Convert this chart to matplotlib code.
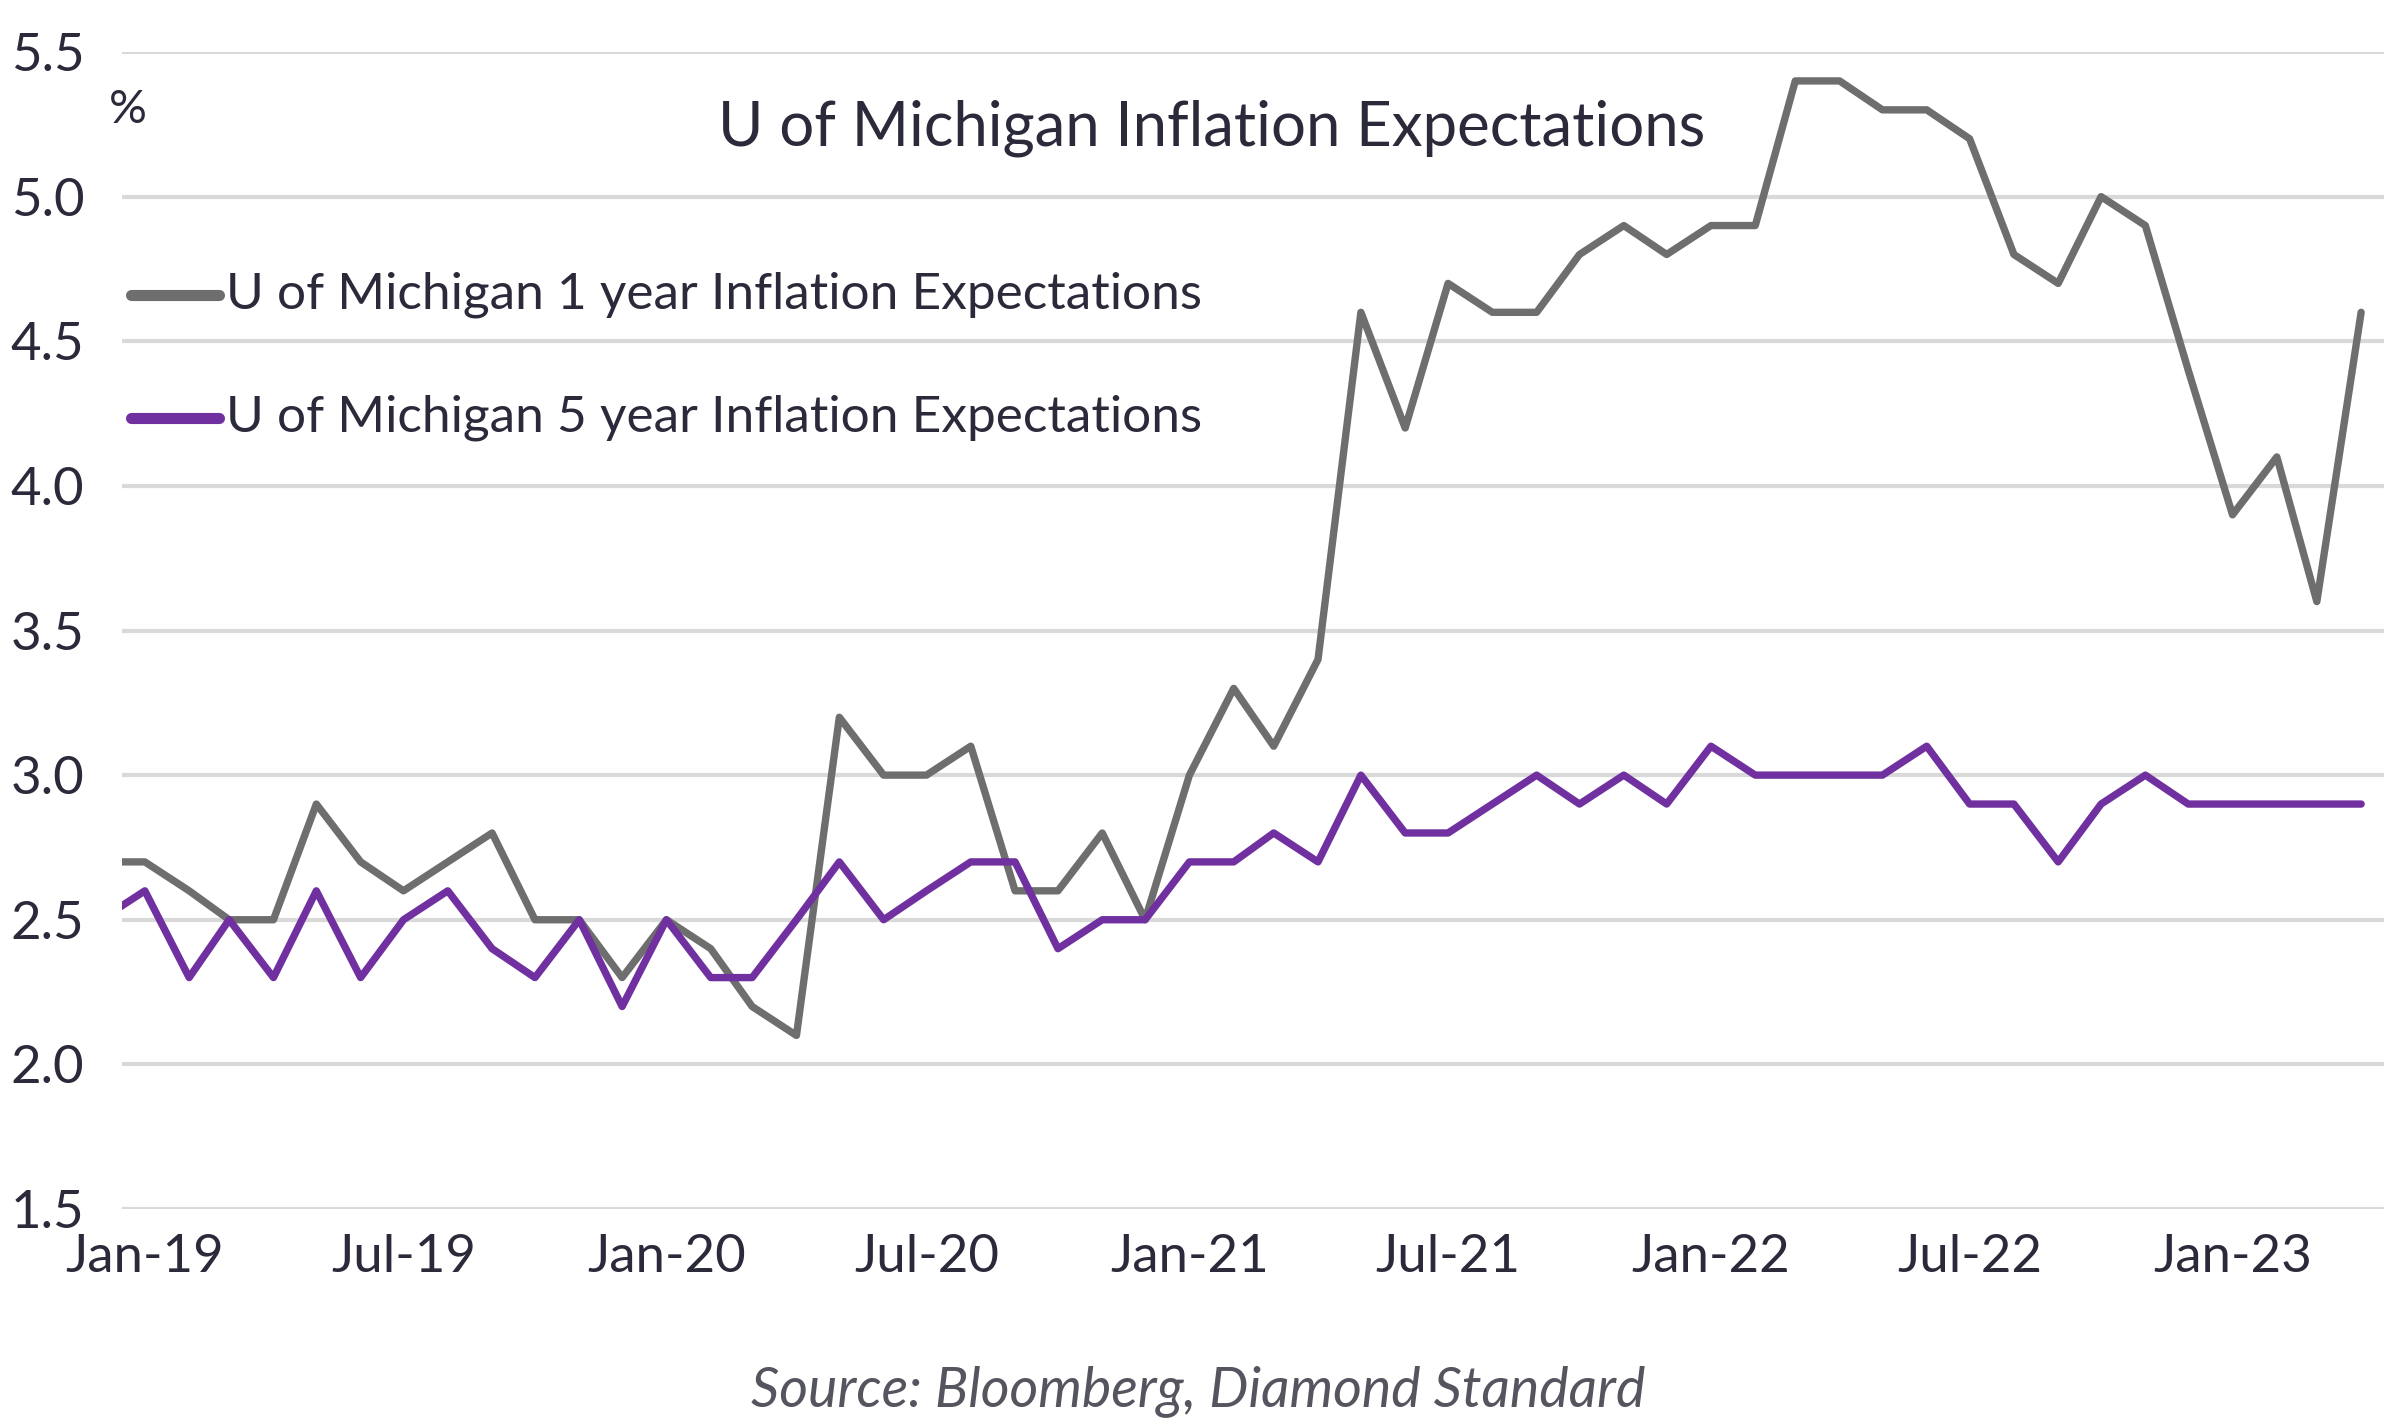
import matplotlib
matplotlib.use("Agg")
import matplotlib.pyplot as plt
import numpy as np
import pandas as pd
from matplotlib.lines import Line2D

# ---- data ----
months = pd.date_range("2018-12-01", "2023-04-01", freq="MS")
one_year = [2.7,
            2.7, 2.6, 2.5, 2.5, 2.9, 2.7, 2.6, 2.7, 2.8, 2.5, 2.5, 2.3,
            2.5, 2.4, 2.2, 2.1, 3.2, 3.0, 3.0, 3.1, 2.6, 2.6, 2.8, 2.5,
            3.0, 3.3, 3.1, 3.4, 4.6, 4.2, 4.7, 4.6, 4.6, 4.8, 4.9, 4.8,
            4.9, 4.9, 5.4, 5.4, 5.3, 5.3, 5.2, 4.8, 4.7, 5.0, 4.9, 4.4,
            3.9, 4.1, 3.6, 4.6]
five_year = [2.5,
             2.6, 2.3, 2.5, 2.3, 2.6, 2.3, 2.5, 2.6, 2.4, 2.3, 2.5, 2.2,
             2.5, 2.3, 2.3, 2.5, 2.7, 2.5, 2.6, 2.7, 2.7, 2.4, 2.5, 2.5,
             2.7, 2.7, 2.8, 2.7, 3.0, 2.8, 2.8, 2.9, 3.0, 2.9, 3.0, 2.9,
             3.1, 3.0, 3.0, 3.0, 3.0, 3.1, 2.9, 2.9, 2.7, 2.9, 3.0, 2.9,
             2.9, 2.9, 2.9, 2.9]
tick_dates = pd.date_range("2019-01-01", "2023-01-01", freq="6MS")
tick_labels = [d.strftime("%b-%y") for d in tick_dates]
y_ticks = [1.5, 2.0, 2.5, 3.0, 3.5, 4.0, 4.5, 5.0, 5.5]

series_names = ["U of Michigan 1 year Inflation Expectations",
                "U of Michigan 5 year Inflation Expectations"]
title = "U of Michigan Inflation Expectations"
source = "Source: Bloomberg, Diamond Standard"

GRAY = "#6e6e6e"
PURPLE = "#7030a0"
TEXT = "#2b2a3a"

plt.rcParams["font.family"] = ["Lato", "DejaVu Sans"]

fig = plt.figure(figsize=(24, 14.2), dpi=100)
ax = fig.add_axes([122/2400, 1 - 1209/1420, (2384-122)/2400, (1209-52)/1420])

ax.plot(months, one_year, color=GRAY, lw=5.3, solid_joinstyle="round", solid_capstyle="round", zorder=3)
ax.plot(months, five_year, color=PURPLE, lw=5.3, solid_joinstyle="round", solid_capstyle="round", zorder=4)

left = pd.Timestamp("2019-01-01") - pd.Timedelta(days=16)
right = pd.Timestamp("2023-04-01") + pd.Timedelta(days=16)
ax.set_xlim(left, right)
ax.set_ylim(1.5, 5.5)
ax.set_yticks(y_ticks)
ax.set_yticklabels([f"{v:.1f}" for v in y_ticks])
ax.set_xticks(tick_dates)
ax.set_xticklabels(tick_labels)
ax.tick_params(axis="both", length=0, labelsize=38, colors=TEXT)
ax.tick_params(axis="y", pad=27)
ax.tick_params(axis="x", pad=18)
ax.grid(axis="y", color="#d9d9d9", lw=3)
ax.set_axisbelow(True)
for s in ax.spines.values():
    s.set_visible(False)

# title, unit, legend, source
fig.text(1212/2400, 1 - 128/1420, title, ha="center", va="center", fontsize=44.5, color=TEXT)
fig.text(128/2400, 1 - 110/1420, "%", ha="center", va="center", fontsize=34, color=TEXT)
for i, (name, col) in enumerate(zip(series_names, [GRAY, PURPLE])):
    y = 1 - (295 + i*123)/1420
    fig.add_artist(Line2D([131/2400, 219/2400], [y, y], color=col, lw=8,
                          solid_capstyle="round", transform=fig.transFigure))
    fig.text(226/2400, y, name, ha="left", va="center", fontsize=37, color=TEXT)
fig.text(1198/2400, 1 - 1391/1420, source, ha="center", va="center", fontsize=40,
         color="#55555f", style="italic")

fig.savefig("out.png", dpi=100, facecolor="white")
